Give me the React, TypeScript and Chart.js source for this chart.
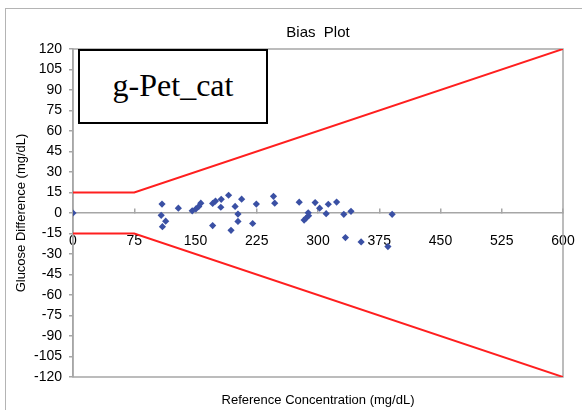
import React, { useEffect, useRef } from 'react';
import { Chart, registerables } from 'chart.js';

Chart.register(...registerables);

// Data
const refConc = [
  0, 109, 108, 113.5, 109.5, 129, 146, 150.5, 154, 156.5, 171, 174.5, 181.5, 181,
  190.5, 198.5, 206.5, 202, 202, 171, 193.5, 220, 224.5, 245.5, 247, 277, 283,
  285.5, 288.5, 288, 296.5, 302, 310, 312.6, 322.8, 331.6, 340.4, 333.6, 352.8,
  385.6, 390.8,
];
const glucoseDiff = [
  0, 6.5, -1.7, -6, -10, 3.5, 1.6, 3, 4.8, 7.2, 7, 8.7, 10, 4.2,
  13, 4.8, 10.1, -0.8, -6.2, -9.2, -12.7, -7.7, 6.5, 12.2, 7.2, 7.9, -5.2,
  -3.7, -2, 0.2, 7.6, 3.5, -0.5, 6.4, 8, -1, 1.2, -18, -21.2,
  -24.6, -1,
];
const limitX = [0, 75, 600];
const upperLimit = [15, 15, 120];
const lowerLimit = [-15, -15, -120];
const xTicks = [0, 75, 150, 225, 300, 375, 450, 525, 600];
const yTicks = [
  -120, -105, -90, -75, -60, -45, -30, -15, 0, 15, 30, 45, 60, 75, 90, 105, 120,
];

const FONT = "'Liberation Sans', Arial, sans-serif";
const AXIS_GRAY = '#a6a6a6';

const framePlugin = {
  id: 'frame',
  beforeDraw(chart: any) {
    const { ctx, width, height } = chart;
    ctx.save();
    ctx.fillStyle = '#ffffff';
    ctx.fillRect(0, 0, width, height);
    ctx.strokeStyle = '#b4b4b4';
    ctx.lineWidth = 1;
    ctx.strokeRect(5.5, 8.5, width + 20, height + 20);
    ctx.restore();
  },
  beforeDatasetsDraw(chart: any) {
    const { ctx, chartArea } = chart;
    ctx.save();
    ctx.strokeStyle = AXIS_GRAY;
    ctx.lineWidth = 1.5;
    ctx.strokeRect(
      chartArea.left,
      chartArea.top,
      chartArea.right - chartArea.left,
      chartArea.bottom - chartArea.top
    );
    ctx.restore();
  },
};

export default function App() {
  const canvasRef = useRef<HTMLCanvasElement | null>(null);

  useEffect(() => {
    if (!canvasRef.current) return;
    Chart.defaults.font.family = FONT;
    const chart = new Chart(canvasRef.current, {
      type: 'scatter',
      data: {
        datasets: [
          {
            type: 'line',
            data: limitX.map((x, i) => ({ x, y: upperLimit[i] })),
            borderColor: '#ff1f1f',
            borderWidth: 2,
            pointRadius: 0,
            tension: 0,
            fill: false,
          },
          {
            type: 'line',
            data: limitX.map((x, i) => ({ x, y: lowerLimit[i] })),
            borderColor: '#ff1f1f',
            borderWidth: 2,
            pointRadius: 0,
            tension: 0,
            fill: false,
          },
          {
            type: 'scatter',
            data: refConc.map((x, i) => ({ x, y: glucoseDiff[i] })),
            pointStyle: 'rectRot',
            pointRadius: 3.6,
            backgroundColor: '#3a50a4',
            borderColor: '#3a50a4',
            borderWidth: 0,
          },
        ],
      } as any,
      options: {
        animation: false,
        responsive: false,
        layout: { padding: { left: 0, top: 0, right: 19, bottom: 0 } },
        plugins: {
          legend: { display: false },
          tooltip: { enabled: false },
          title: {
            display: true,
            text: 'Bias  Plot',
            color: '#000',
            font: { size: 15, weight: 'normal', family: FONT },
            padding: { top: 24, bottom: 7 },
            fullSize: false,
          },
          subtitle: {
            display: true,
            position: 'bottom',
            text: 'Reference Concentration (mg/dL)',
            color: '#000',
            font: { size: 13, weight: 'normal', family: FONT },
            padding: { top: 15.7, bottom: 1.7 },
            fullSize: false,
          },
        },
        scales: {
          x: {
            type: 'linear',
            position: { y: 0 } as any,
            min: 0,
            max: 600,
            afterBuildTicks: (s: any) => {
              s.ticks = xTicks.map((v) => ({ value: v }));
            },
            afterFit: (s: any) => {
              s.height = 0;
              s.paddingLeft = 0;
              s.paddingRight = 0;
              s.paddingTop = 0;
              s.paddingBottom = 0;
            },
            grid: {
              drawOnChartArea: false,
              tickLength: -5,
              color: AXIS_GRAY,
              lineWidth: 1.5,
            },
            border: { color: AXIS_GRAY, width: 1.5 },
            ticks: {
              color: '#000',
              font: { size: 14, family: FONT },
              padding: 25,
              autoSkip: false,
              maxRotation: 0,
            },
          },
          y: {
            type: 'linear',
            position: 'left',
            min: -120,
            max: 120,
            afterBuildTicks: (s: any) => {
              s.ticks = yTicks.map((v) => ({ value: v }));
            },
            afterFit: (s: any) => {
              s.width = 73;
              s.paddingTop = 0;
              s.paddingBottom = 0;
            },
            grid: {
              drawOnChartArea: false,
              tickLength: 4,
              color: AXIS_GRAY,
              lineWidth: 1.5,
            },
            border: { color: AXIS_GRAY, width: 1.5 },
            ticks: {
              color: '#000',
              font: { size: 14, family: FONT },
              padding: 7,
              autoSkip: false,
            },
            title: {
              display: true,
              text: 'Glucose Difference (mg/dL)',
              color: '#000',
              font: { size: 13, family: FONT },
              padding: { top: 14, bottom: 0 },
            },
          },
        },
      } as any,
      plugins: [framePlugin],
    });
    return () => chart.destroy();
  }, []);

  return (
    <div style={{ position: 'absolute', left: 0, top: 0, width: 582, height: 410 }}>
      <canvas ref={canvasRef} width={582} height={410} style={{ display: 'block' }} />
      <div
        style={{
          position: 'absolute',
          left: 78,
          top: 49,
          width: 186,
          height: 68,
          border: '2px solid #000',
          background: '#fff',
          display: 'flex',
          alignItems: 'center',
          justifyContent: 'center',
          fontFamily: "'Liberation Serif', 'Times New Roman', serif",
          fontSize: 32,
          color: '#000',
          lineHeight: 1,
          paddingBottom: 3,
          boxSizing: 'content-box',
        }}
      >
        g-Pet_cat
      </div>
    </div>
  );
}
